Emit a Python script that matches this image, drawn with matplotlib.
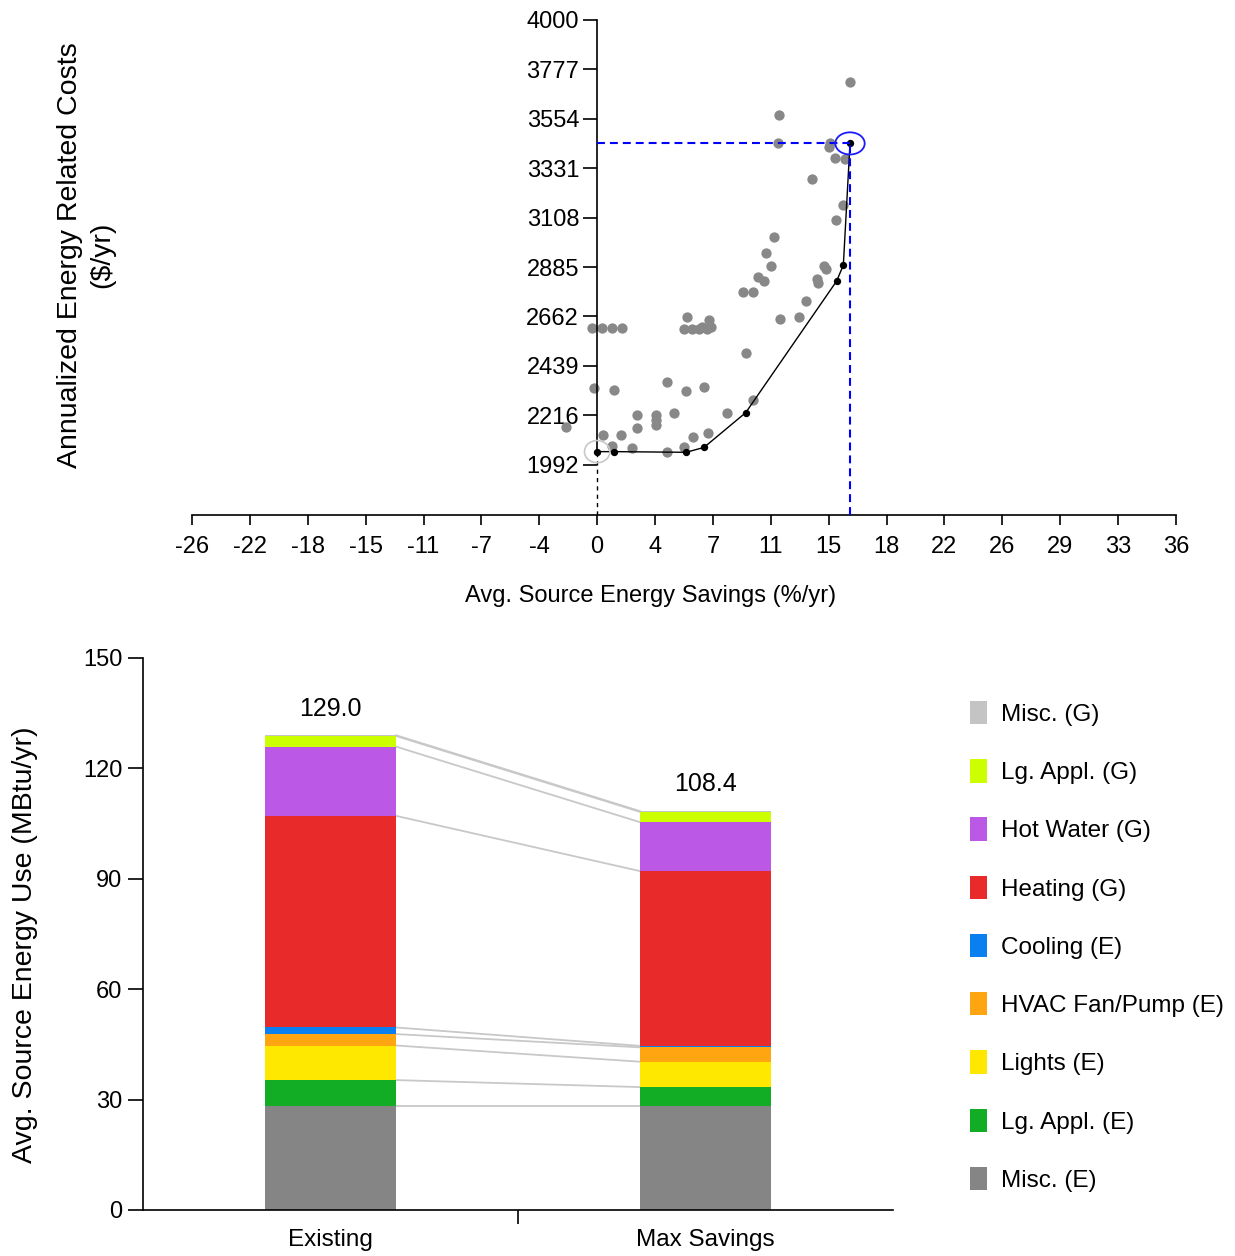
import matplotlib
matplotlib.use('Agg')
import matplotlib.pyplot as plt
import numpy as np
from matplotlib.patches import Ellipse, Patch

plt.rcParams['font.family'] = ['Liberation Sans', 'DejaVu Sans']

# ---------------- Top chart data ----------------
x_tick_labels = [-26, -22, -18, -15, -11, -7, -4, 0, 4, 7, 11, 15, 18, 22, 26, 29, 33, 36]
x_step = 3.647
y_tick_labels = [1992, 2216, 2439, 2662, 2885, 3108, 3331, 3554, 3777, 4000]

option_x = [15.93, 11.48, 11.39, 14.67, 14.61, 14.98, 15.60, 13.52, 15.51, 15.05,
            11.12, 10.64, 10.98, 10.13, 10.49, 9.21, 9.84, 14.29, 14.40, 13.83,
            13.91, 13.16, 12.74, 11.52, 7.04, 7.15, 6.63, 9.36, 6.73, 9.82,
            8.20, -0.30, 0.33, 0.96, 1.59, 5.68, 5.47, 6.00, 6.41, 6.94,
            -0.20, 1.06, 4.42, 5.60, 2.49, 2.53, 3.69, 3.69, 3.69, 4.84,
            -1.98, 0.39, 1.48, 0.96, 2.22, 4.42, 5.47, 6.06, 7.01]
option_y = [3719, 3573, 3443, 3446, 3428, 3376, 3373, 3281, 3165, 3097,
            3022, 2950, 2891, 2839, 2824, 2774, 2774, 2890, 2875, 2830,
            2812, 2732, 2658, 2649, 2646, 2616, 2616, 2496, 2345, 2285,
            2225, 2609, 2609, 2609, 2609, 2658, 2606, 2606, 2606, 2606,
            2338, 2330, 2368, 2326, 2218, 2160, 2218, 2195, 2172, 2225,
            2162, 2127, 2127, 2079, 2070, 2052, 2075, 2120, 2135]

frontier_x = [0.0, 1.06, 5.60, 6.73, 9.36, 15.09, 15.51, 15.93]
frontier_y = [2052, 2052, 2049, 2071, 2228, 2822, 2894, 3443]

# ---------------- Bottom chart data ----------------
categories = ['Existing', 'Max Savings']
end_uses = ['Misc. (E)', 'Lg. Appl. (E)', 'Lights (E)', 'HVAC Fan/Pump (E)', 'Cooling (E)',
            'Heating (G)', 'Hot Water (G)', 'Lg. Appl. (G)', 'Misc. (G)']
existing = [28.3, 7.0, 9.4, 3.1, 1.8, 57.5, 18.8, 2.9, 0.2]
max_savings = [28.3, 5.1, 6.9, 3.9, 0.4, 47.5, 13.3, 2.8, 0.2]
colors = ['#858585', '#12ad24', '#ffe800', '#ffa512', '#0a7ff0',
          '#e82a2a', '#bb58e6', '#ccff00', '#c4c4c4']
bar_y_ticks = [0, 30, 60, 90, 120, 150]

FS = 17
W, H = 1235, 1256
fig = plt.figure(figsize=(W / 100, H / 100), dpi=100)

# ================= Top scatter =================
ax1 = fig.add_axes([192 / W, 1 - 515 / H, (1176 - 192) / W, (515 - 20) / H])
xt = np.arange(-7, 11) * x_step
ax1.set_xlim(xt[0], xt[-1])
ylo = 1766
ax1.set_ylim(ylo, 4000)
ax1.set_xticks(xt)
ax1.set_xticklabels([str(v) for v in x_tick_labels])
ax1.set_yticks(y_tick_labels)
ax1.set_yticklabels([str(v) for v in y_tick_labels])
for s in ['top', 'right']:
    ax1.spines[s].set_visible(False)
ax1.spines['left'].set_position(('data', 0))
ax1.spines['left'].set_bounds(frontier_y[0], 4000)
ax1.spines['bottom'].set_bounds(xt[0], xt[-1])
ax1.tick_params(axis='y', length=10, width=1.2, labelsize=FS, pad=3)
ax1.tick_params(axis='x', length=7, width=1.2, labelsize=FS, pad=8)
for sp in ax1.spines.values():
    sp.set_linewidth(1.2)

ax1.scatter(option_x, option_y, s=55, color='#888888', zorder=2, linewidths=0)
ax1.plot(frontier_x, frontier_y, color='black', lw=1.0, zorder=3)
ax1.scatter(frontier_x, frontier_y, s=28, color='black', zorder=4, linewidths=0)

mx, my = frontier_x[-1], frontier_y[-1]
ax1.plot([0, mx], [my, my], color='#0000ff', lw=1.5, dashes=(3.8, 2.4), zorder=5)
ax1.plot([mx, mx], [ylo, my], color='#0000ff', lw=1.5, dashes=(3.8, 2.4), zorder=5)
ax1.plot([frontier_x[0], frontier_x[0]], [ylo, frontier_y[0]], color='black', lw=1.0,
         dashes=(3, 3), zorder=5)
ax1.add_patch(Ellipse((mx, my), 1.85, 100, fill=False, edgecolor='#1a1aff', lw=1.3, zorder=6))
ax1.add_patch(Ellipse((frontier_x[0], frontier_y[0]), 1.6, 100, fill=False,
                      edgecolor='#c8c8c8', lw=1.2, zorder=6))

fig.text(86 / W, 1 - 255 / H, 'Annualized Energy Related Costs\n($/yr)', rotation=90,
         ha='center', va='center', fontsize=20.5, multialignment='center', linespacing=1.3)
fig.text(651 / W, 1 - 596 / H, 'Avg. Source Energy Savings (%/yr)', ha='center',
         va='center', fontsize=FS)

# ================= Bottom stacked bars =================
ax2 = fig.add_axes([143 / W, 1 - 1210 / H, 750 / W, 552 / H])
ax2.set_xlim(-0.5, 1.5)
ax2.set_ylim(0, 150)
bw = 0.35
series = [existing, max_savings]
bottoms = [0.0, 0.0]
cum = [[], []]
for j, name in enumerate(end_uses):
    for i in range(2):
        ax2.bar(i, series[i][j], bw, bottom=bottoms[i], color=colors[j],
                edgecolor='none', zorder=2)
        bottoms[i] += series[i][j]
        cum[i].append(bottoms[i])
for j in range(len(end_uses)):
    ax2.plot([bw / 2, 1 - bw / 2], [cum[0][j], cum[1][j]], color='#c8c8c8', lw=1.3, zorder=1)
for i in range(2):
    tot = sum(series[i])
    ax2.text(i, tot + 4, f'{tot:.1f}', ha='center', va='bottom', fontsize=18)

for s in ['top', 'right']:
    ax2.spines[s].set_visible(False)
for sp in ax2.spines.values():
    sp.set_linewidth(1.2)
ax2.set_yticks(bar_y_ticks)
ax2.tick_params(axis='y', length=11, width=1.2, labelsize=FS, pad=4)
ax2.set_xticks([0.5])
ax2.set_xticklabels([''])
ax2.tick_params(axis='x', which='major', length=10, width=1.2)
ax2.set_xticks([0, 1], minor=True)
ax2.set_xticklabels(categories, minor=True)
ax2.tick_params(axis='x', which='minor', length=0, labelsize=17.5, pad=14)

fig.text(25 / W, 1 - 945 / H, 'Avg. Source Energy Use (MBtu/yr)', rotation=90,
         ha='center', va='center', fontsize=20.5)

handles = [Patch(facecolor=colors[j], edgecolor='none') for j in range(len(end_uses))][::-1]
labels = end_uses[::-1]
fig.legend(handles, labels, loc='upper left', bbox_to_anchor=(970 / W, 1 - 701 / H),
           frameon=False, handlelength=0.68, handleheight=1.1, labelspacing=1.37,
           handletextpad=0.6, fontsize=17.5, borderaxespad=0, borderpad=0)

fig.savefig('out.png', dpi=100)
